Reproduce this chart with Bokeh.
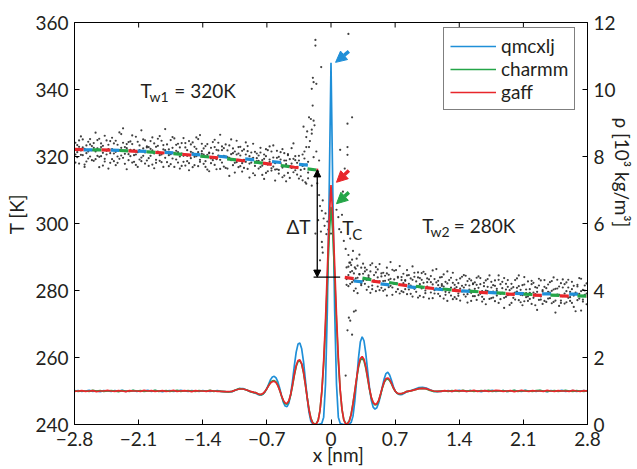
from bokeh.plotting import figure
from bokeh.models import (Range1d, LinearAxis, FixedTicker, CustomJSTickFormatter,
                          Label, Arrow, NormalHead)
from bokeh.embed import file_html
from bokeh.resources import INLINE

# ---------------- data ----------------
X_TICKS = [-2.8, -2.1, -1.4, -0.7, 0.0, 0.7, 1.4, 2.1, 2.8]
T_TICKS = [240, 260, 280, 300, 320, 340, 360]
RHO_TICKS = [0, 2, 4, 6, 8, 10, 12]

# density profile grid (nm)
DX_LEFT = [-2.80, -2.76, -2.72, -2.68, -2.64, -2.60, -2.56, -2.52, -2.48, -2.44,
           -2.40, -2.36, -2.32, -2.28, -2.24, -2.20, -2.16, -2.12, -2.08, -2.04,
           -2.00, -1.96, -1.92, -1.88, -1.84, -1.80, -1.76, -1.72, -1.68, -1.64,
           -1.60, -1.56, -1.52, -1.48, -1.44, -1.40, -1.36, -1.32, -1.28, -1.24,
           -1.20, -1.16, -1.12, -1.08, -1.04, -1.00, -0.96, -0.92, -0.88, -0.84]
DX_CENTER = [-0.82, -0.80, -0.78, -0.76, -0.74, -0.72, -0.70, -0.68, -0.66, -0.64,
             -0.62, -0.60, -0.58, -0.56, -0.54, -0.52, -0.50, -0.48, -0.46, -0.44,
             -0.42, -0.40, -0.38, -0.36, -0.34, -0.32, -0.30, -0.28, -0.26, -0.24,
             -0.22, -0.20, -0.18, -0.16, -0.14, -0.12, -0.10, -0.08, -0.06, -0.04,
             -0.02, 0.00, 0.02, 0.04, 0.06, 0.08, 0.10, 0.12, 0.14, 0.16,
             0.18, 0.20, 0.22, 0.24, 0.26, 0.28, 0.30, 0.32, 0.34, 0.36,
             0.38, 0.40, 0.42, 0.44, 0.46, 0.48, 0.50, 0.52, 0.54, 0.56,
             0.58, 0.60, 0.62, 0.64, 0.66, 0.68, 0.70, 0.72, 0.74, 0.76,
             0.78, 0.80, 0.82]
DX_RIGHT = [0.84, 0.88, 0.92, 0.96, 1.00, 1.04, 1.08, 1.12, 1.16, 1.20,
            1.24, 1.28, 1.32, 1.36, 1.40, 1.44, 1.48, 1.52, 1.56, 1.60,
            1.64, 1.68, 1.72, 1.76, 1.80, 1.84, 1.88, 1.92, 1.96, 2.00,
            2.04, 2.08, 2.12, 2.16, 2.20, 2.24, 2.28, 2.32, 2.36, 2.40,
            2.44, 2.48, 2.52, 2.56, 2.60, 2.64, 2.68, 2.72, 2.76, 2.80]

QMC_LEFT = [1.00, 1.01, 0.99, 1.00, 1.02, 0.99, 1.00, 0.98, 1.01, 1.00,
            0.99, 1.01, 1.00, 1.02, 0.99, 1.00, 1.01, 0.99, 1.00, 1.00,
            1.02, 0.99, 1.01, 1.00, 0.98, 1.00, 1.01, 0.99, 1.00, 1.02,
            1.00, 0.99, 1.01, 1.00, 0.99, 1.01, 1.00, 0.99, 1.00, 1.01,
            0.99, 0.98, 0.97, 0.98, 1.03, 1.07, 1.07, 1.03, 0.98, 0.95]
QMC_CENTER = [0.93, 0.90, 0.88, 0.88, 0.91, 0.98, 1.08, 1.21, 1.34, 1.42,
              1.44, 1.39, 1.27, 1.08, 0.86, 0.66, 0.55, 0.53, 0.64, 0.90,
              1.30, 1.76, 2.16, 2.40, 2.43, 2.26, 1.88, 1.34, 0.80, 0.36,
              0.10, 0.02, 0.00, 0.00, 0.00, 0.01, 0.04, 0.22, 1.20, 3.40,
              6.90, 10.80, 6.90, 3.40, 1.20, 0.22, 0.04, 0.01, 0.00, 0.00,
              0.00, 0.01, 0.06, 0.25, 0.70, 1.32, 1.98, 2.46, 2.62, 2.50,
              2.12, 1.60, 1.10, 0.72, 0.52, 0.46, 0.50, 0.64, 0.86, 1.12,
              1.36, 1.52, 1.56, 1.48, 1.32, 1.14, 1.00, 0.93, 0.90, 0.89,
              0.90, 0.93, 0.97]
QMC_RIGHT = [0.99, 1.02, 1.06, 1.10, 1.11, 1.09, 1.04, 0.99, 0.98, 0.99,
             1.00, 1.01, 0.99, 1.00, 1.02, 1.00, 0.99, 1.01, 1.00, 1.00,
             0.98, 1.01, 1.00, 1.02, 0.99, 1.00, 1.01, 0.99, 1.00, 1.01,
             1.00, 0.99, 1.02, 1.00, 1.00, 0.99, 1.01, 1.00, 0.98, 1.01,
             1.00, 1.00, 1.02, 0.99, 1.00, 1.01, 0.99, 1.00, 1.01, 1.00]

CHA_LEFT = [1.01, 0.99, 1.00, 1.00, 0.99, 1.02, 1.00, 1.01, 0.99, 1.00,
            1.01, 1.00, 0.98, 1.01, 1.00, 0.99, 1.02, 1.00, 1.01, 0.99,
            1.00, 1.00, 1.02, 0.99, 1.00, 1.01, 0.99, 1.00, 1.02, 0.99,
            1.00, 1.01, 1.00, 0.99, 1.01, 1.00, 1.00, 1.02, 0.99, 1.00,
            0.99, 0.98, 0.97, 0.99, 1.03, 1.07, 1.06, 1.03, 0.98, 0.95]
CHA_CENTER = [0.95, 0.92, 0.89, 0.89, 0.92, 0.98, 1.07, 1.17, 1.26, 1.30,
              1.31, 1.27, 1.17, 1.02, 0.85, 0.70, 0.62, 0.61, 0.69, 0.88,
              1.16, 1.47, 1.73, 1.88, 1.90, 1.80, 1.55, 1.20, 0.81, 0.45,
              0.19, 0.06, 0.02, 0.03, 0.13, 0.42, 0.98, 1.80, 2.90, 4.25,
              5.60, 6.50, 5.70, 4.40, 3.05, 1.90, 1.02, 0.45, 0.14, 0.03,
              0.03, 0.11, 0.31, 0.62, 0.99, 1.37, 1.71, 1.92, 1.97, 1.90,
              1.68, 1.37, 1.05, 0.80, 0.65, 0.58, 0.60, 0.70, 0.88, 1.08,
              1.25, 1.34, 1.36, 1.31, 1.21, 1.09, 1.00, 0.94, 0.91, 0.91,
              0.93, 0.95, 0.98]
CHA_RIGHT = [0.99, 1.01, 1.04, 1.07, 1.08, 1.06, 1.02, 0.99, 0.99, 1.00,
             1.00, 0.99, 1.01, 1.00, 0.99, 1.02, 1.00, 1.01, 0.99, 1.00,
             1.01, 1.00, 1.02, 0.99, 1.00, 1.00, 1.01, 0.99, 1.00, 1.02,
             0.99, 1.00, 1.01, 1.00, 0.99, 1.01, 1.02, 1.00, 0.99, 1.00,
             1.01, 0.99, 1.00, 1.02, 1.00, 0.99, 1.01, 1.00, 0.99, 1.01]

GAF_LEFT = [0.99, 1.00, 1.01, 0.99, 1.00, 1.01, 0.98, 1.00, 1.00, 1.02,
            1.00, 0.99, 1.01, 1.00, 0.98, 1.01, 1.00, 1.00, 0.99, 1.02,
            1.00, 1.01, 0.99, 1.00, 1.01, 0.99, 1.00, 1.02, 0.99, 1.00,
            1.01, 1.00, 0.98, 1.01, 1.00, 1.00, 0.99, 1.01, 1.00, 0.99,
            0.99, 0.98, 0.98, 0.99, 1.03, 1.06, 1.06, 1.03, 0.99, 0.96]
GAF_CENTER = [0.95, 0.92, 0.90, 0.90, 0.93, 0.99, 1.07, 1.16, 1.24, 1.28,
              1.29, 1.25, 1.16, 1.02, 0.86, 0.72, 0.64, 0.63, 0.71, 0.90,
              1.18, 1.50, 1.76, 1.91, 1.93, 1.82, 1.56, 1.20, 0.80, 0.44,
              0.18, 0.05, 0.01, 0.02, 0.12, 0.42, 1.00, 1.90, 3.10, 4.60,
              6.10, 7.15, 6.20, 4.75, 3.25, 2.00, 1.05, 0.45, 0.13, 0.02,
              0.02, 0.10, 0.30, 0.62, 1.00, 1.40, 1.75, 1.97, 2.03, 1.95,
              1.72, 1.40, 1.07, 0.81, 0.66, 0.60, 0.62, 0.72, 0.90, 1.10,
              1.27, 1.37, 1.39, 1.34, 1.23, 1.10, 1.00, 0.94, 0.92, 0.92,
              0.93, 0.95, 0.98]
GAF_RIGHT = [0.99, 1.01, 1.04, 1.07, 1.08, 1.07, 1.03, 1.00, 0.99, 0.99,
             1.01, 1.00, 0.99, 1.02, 1.00, 1.01, 0.99, 1.00, 1.02, 0.99,
             1.00, 1.01, 0.99, 1.00, 1.02, 1.01, 0.99, 1.00, 1.01, 0.98,
             1.00, 1.02, 1.00, 0.99, 1.01, 1.00, 1.00, 0.99, 1.02, 1.00,
             0.99, 1.01, 1.00, 1.00, 0.99, 1.02, 1.00, 0.99, 1.01, 1.00]

# temperature samples (K): hot side
TX_LEFT = [-2.79, -2.77, -2.75, -2.73, -2.71, -2.69, -2.67, -2.65, -2.63, -2.61,
           -2.59, -2.57, -2.55, -2.53, -2.51, -2.49, -2.47, -2.45, -2.43, -2.41,
           -2.39, -2.37, -2.35, -2.33, -2.31, -2.29, -2.27, -2.25, -2.23, -2.21,
           -2.19, -2.17, -2.15, -2.13, -2.11, -2.09, -2.07, -2.05, -2.03, -2.01,
           -1.99, -1.97, -1.95, -1.93, -1.91, -1.89, -1.87, -1.85, -1.83, -1.81,
           -1.79, -1.77, -1.75, -1.73, -1.71, -1.69, -1.67, -1.65, -1.63, -1.61,
           -1.59, -1.57, -1.55, -1.53, -1.51, -1.49, -1.47, -1.45, -1.43, -1.41,
           -1.39, -1.37, -1.35, -1.33, -1.31, -1.29, -1.27, -1.25, -1.23, -1.21,
           -1.19, -1.17, -1.15, -1.13, -1.11, -1.09, -1.07, -1.05, -1.03, -1.01,
           -0.99, -0.97, -0.95, -0.93, -0.91, -0.89, -0.87, -0.85, -0.83, -0.81,
           -0.79, -0.77, -0.75, -0.73, -0.71, -0.69, -0.67, -0.65, -0.63, -0.61,
           -0.59, -0.57, -0.55, -0.53, -0.51, -0.49, -0.47, -0.45, -0.43, -0.41,
           -0.39, -0.37, -0.35, -0.33, -0.31, -0.29, -0.27, -0.25]
TA_LEFT = [324.1, 319.8, 322.9, 326.0, 320.4, 317.6, 323.3, 321.5, 325.2, 318.9,
           322.6, 327.1, 320.2, 316.8, 323.9, 321.1, 319.3, 324.8, 322.2, 318.1,
           325.6, 320.9, 317.4, 323.5, 321.9, 326.7, 319.6, 322.8, 316.2, 324.3,
           320.1, 323.7, 318.4, 325.9, 321.3, 319.1, 327.8, 322.4, 317.9, 323.0,
           319.5, 324.6, 321.8, 316.5, 322.9, 325.3, 318.7, 320.6, 323.4, 328.2,
           318.3, 322.1, 324.9, 319.4, 316.9, 321.7, 323.8, 320.0, 317.2, 325.5,
           322.7, 318.6, 315.9, 321.4, 324.2, 319.9, 322.3, 317.1, 326.4, 320.8,
           317.8, 323.1, 320.5, 315.6, 322.6, 318.9, 325.0, 319.2, 321.8, 316.3,
           321.9, 317.0, 323.6, 319.8, 314.2, 320.7, 322.4, 318.1, 324.7, 316.8,
           320.3, 315.5, 322.1, 318.4, 321.6, 313.7, 319.3, 323.8, 317.2, 320.9,
           316.4, 321.2, 318.9, 313.3, 320.1, 317.6, 323.0, 315.8, 319.7, 316.1,
           319.6, 314.9, 321.3, 316.7, 318.8, 312.6, 320.4, 317.1, 322.5, 315.3,
           318.9, 314.6, 320.2, 316.0, 312.9, 319.4, 322.8, 315.2]
TB_LEFT = [320.6, 323.4, 317.9, 321.8, 325.1, 322.3, 318.5, 324.4, 320.0, 323.1,
           318.7, 321.5, 324.9, 319.9, 322.8, 317.3, 326.2, 320.6, 323.5, 321.0,
           319.2, 323.9, 321.4, 318.1, 327.2, 320.3, 324.1, 317.8, 322.5, 320.7,
           324.5, 318.2, 322.0, 320.6, 316.9, 323.3, 319.7, 325.1, 321.2, 318.8,
           322.8, 320.2, 317.6, 323.9, 319.0, 321.5, 326.1, 318.3, 322.1, 319.6,
           323.6, 320.4, 317.7, 322.6, 325.4, 319.1, 321.3, 316.4, 324.0, 320.2,
           317.3, 321.9, 324.6, 319.5, 316.8, 322.9, 320.1, 325.2, 318.4, 321.6,
           322.4, 318.6, 316.1, 321.2, 319.4, 324.3, 317.5, 322.0, 320.3, 326.5,
           318.2, 322.5, 320.0, 316.4, 323.3, 318.9, 321.0, 315.2, 320.6, 322.8,
           317.1, 321.7, 319.0, 324.2, 316.3, 320.1, 318.2, 315.0, 321.4, 319.5,
           320.3, 316.9, 314.5, 319.3, 322.2, 315.6, 318.4, 321.5, 317.0, 312.8,
           316.2, 319.9, 318.0, 313.8, 321.0, 317.7, 315.1, 319.2, 316.6, 323.9,
           315.9, 318.1, 313.4, 317.5, 320.6, 316.3, 311.9, 318.4]
TC_LEFT = [318.2, 321.3, 324.8, 320.5, 322.7, 316.9, 321.0, 319.4, 323.6, 321.9,
           324.0, 319.2, 322.4, 325.3, 320.1, 323.2, 318.5, 321.7, 316.4, 324.6,
           322.2, 318.6, 324.7, 320.0, 319.3, 322.6, 328.4, 320.8, 323.7, 318.9,
           322.0, 326.3, 320.4, 317.5, 324.4, 321.9, 318.6, 320.2, 324.8, 322.7,
           317.2, 322.3, 325.7, 320.9, 318.1, 323.2, 320.4, 324.7, 316.9, 321.9,
           321.2, 317.1, 320.7, 325.8, 321.1, 323.5, 318.2, 322.7, 320.9, 318.4,
           324.0, 320.2, 318.0, 323.6, 321.1, 317.4, 325.7, 321.3, 319.0, 323.8,
           320.6, 316.9, 323.7, 321.0, 318.0, 320.9, 322.8, 316.2, 324.1, 319.0,
           323.0, 320.2, 316.6, 321.8, 319.6, 325.1, 317.4, 321.5, 318.3, 320.9,
           322.9, 318.0, 316.6, 320.6, 323.1, 317.9, 321.2, 319.6, 314.4, 318.6,
           318.7, 322.6, 317.3, 320.6, 315.1, 321.9, 319.1, 316.5, 323.3, 318.0,
           321.7, 316.0, 319.1, 322.2, 314.3, 318.8, 320.7, 313.6, 317.9, 319.3,
           320.1, 316.9, 318.8, 314.1, 317.2, 321.5, 317.6, 313.5]

# temperature samples (K): cold side
TX_RIGHT = [0.17, 0.19, 0.21, 0.23, 0.25, 0.27, 0.29, 0.31, 0.33, 0.35,
            0.37, 0.39, 0.41, 0.43, 0.45, 0.47, 0.49, 0.51, 0.53, 0.55,
            0.57, 0.59, 0.61, 0.63, 0.65, 0.67, 0.69, 0.71, 0.73, 0.75,
            0.77, 0.79, 0.81, 0.83, 0.85, 0.87, 0.89, 0.91, 0.93, 0.95,
            0.97, 0.99, 1.01, 1.03, 1.05, 1.07, 1.09, 1.11, 1.13, 1.15,
            1.17, 1.19, 1.21, 1.23, 1.25, 1.27, 1.29, 1.31, 1.33, 1.35,
            1.37, 1.39, 1.41, 1.43, 1.45, 1.47, 1.49, 1.51, 1.53, 1.55,
            1.57, 1.59, 1.61, 1.63, 1.65, 1.67, 1.69, 1.71, 1.73, 1.75,
            1.77, 1.79, 1.81, 1.83, 1.85, 1.87, 1.89, 1.91, 1.93, 1.95,
            1.97, 1.99, 2.01, 2.03, 2.05, 2.07, 2.09, 2.11, 2.13, 2.15,
            2.17, 2.19, 2.21, 2.23, 2.25, 2.27, 2.29, 2.31, 2.33, 2.35,
            2.37, 2.39, 2.41, 2.43, 2.45, 2.47, 2.49, 2.51, 2.53, 2.55,
            2.57, 2.59, 2.61, 2.63, 2.65, 2.67, 2.69, 2.71, 2.73, 2.75, 2.77, 2.79]
TA_RIGHT = [286.9, 281.3, 285.5, 289.2, 283.0, 280.6, 287.4, 284.8, 282.1, 288.0,
            285.7, 280.2, 283.9, 287.6, 281.5, 284.6, 279.8, 286.3, 282.7, 285.1,
            279.9, 284.4, 286.8, 281.0, 283.5, 278.7, 285.9, 282.2, 280.4, 287.3,
            284.0, 279.5, 282.9, 286.1, 280.3, 283.6, 278.2, 285.3, 281.1, 283.9,
            278.4, 283.2, 285.6, 280.0, 282.5, 277.6, 284.3, 281.8, 279.1, 286.4,
            282.9, 278.3, 281.4, 284.8, 279.6, 276.9, 283.1, 280.9, 285.3, 278.0,
            277.5, 282.2, 280.6, 284.1, 278.8, 281.7, 276.4, 283.5, 279.3, 281.9,
            282.4, 277.2, 280.8, 283.7, 278.1, 281.3, 275.9, 279.8, 284.5, 277.7,
            281.6, 276.8, 279.9, 283.2, 277.4, 280.7, 274.8, 282.0, 278.6, 280.1,
            276.3, 281.0, 279.4, 283.6, 277.1, 280.2, 275.6, 281.8, 278.0, 282.7,
            280.4, 276.0, 282.3, 278.9, 274.2, 281.5, 277.3, 279.7, 283.1, 276.6,
            279.6, 282.5, 276.2, 280.3, 273.4, 278.8, 281.2, 277.0, 283.3, 279.1,
            276.5, 280.9, 278.0, 282.6, 275.1, 279.4, 281.7, 277.6, 274.0, 280.2, 278.7, 282.1]
TB_RIGHT = [283.4, 287.1, 282.0, 285.8, 279.9, 286.5, 283.8, 290.7, 281.6, 285.0,
            282.0, 286.2, 284.5, 279.3, 288.1, 283.0, 285.4, 281.2, 287.9, 280.8,
            285.3, 282.9, 278.5, 284.7, 281.4, 286.2, 283.3, 279.6, 284.1, 281.7,
            279.8, 285.0, 283.1, 278.9, 284.6, 281.5, 287.2, 280.5, 282.7, 277.9,
            283.7, 280.6, 278.0, 284.9, 281.2, 283.3, 279.4, 286.0, 280.1, 282.4,
            279.0, 283.9, 281.9, 277.6, 282.6, 285.7, 280.1, 278.5, 282.3, 280.6,
            283.2, 279.1, 277.0, 281.4, 284.6, 278.2, 282.8, 280.3, 276.9, 282.1,
            278.3, 281.7, 284.2, 279.0, 276.7, 282.3, 280.0, 283.4, 277.5, 280.9,
            277.9, 283.0, 280.5, 276.3, 281.9, 279.3, 283.7, 278.1, 281.1, 275.7,
            280.6, 277.8, 283.1, 279.7, 281.3, 276.5, 278.6, 284.0, 279.2, 276.9,
            277.5, 281.9, 279.4, 275.6, 280.8, 283.5, 278.2, 276.0, 281.1, 279.0,
            281.8, 277.7, 279.9, 283.9, 277.0, 280.6, 275.4, 282.2, 278.3, 276.1,
            279.8, 283.2, 276.9, 280.4, 278.5, 273.8, 281.2, 279.0, 283.5, 277.3, 280.0, 275.9]
TC_RIGHT = [281.7, 284.6, 288.3, 282.5, 285.1, 283.6, 279.2, 284.9, 286.8, 282.9,
            286.8, 283.2, 281.1, 285.7, 280.4, 282.6, 287.0, 283.9, 280.1, 284.2,
            282.8, 280.3, 285.1, 283.2, 288.5, 280.9, 282.0, 286.1, 283.8, 279.1,
            283.1, 282.2, 280.4, 284.5, 282.0, 279.0, 283.2, 284.1, 279.6, 285.4,
            281.9, 285.2, 282.3, 279.2, 283.6, 280.8, 282.5, 277.7, 283.4, 280.6,
            281.6, 280.8, 284.0, 281.2, 278.7, 282.1, 279.4, 283.8, 277.4, 281.7,
            281.0, 278.4, 283.6, 279.7, 280.9, 284.4, 278.9, 281.5, 283.0, 278.3,
            280.5, 283.8, 278.6, 281.9, 279.8, 277.4, 283.0, 281.1, 279.5, 282.6,
            279.7, 281.4, 278.5, 284.5, 279.0, 282.6, 277.8, 280.3, 283.1, 278.9,
            282.0, 279.1, 277.3, 280.8, 284.5, 278.7, 281.6, 276.8, 280.3, 278.2,
            279.3, 282.9, 277.8, 281.0, 279.6, 277.2, 283.0, 280.1, 276.9, 280.7,
            277.6, 279.4, 282.8, 276.6, 280.5, 283.2, 278.7, 276.3, 280.9, 281.9,
            282.4, 277.8, 279.6, 276.3, 281.4, 279.0, 277.1, 283.7, 279.8, 276.7, 281.5, 279.1]

# temperature samples in the interface region
TX_MID = [-0.17, -0.17, 0.19, -0.107, -0.198, -0.16, -0.21, -0.19, 0.23, -0.22,
          -0.19, 0.18, -0.18, -0.27, -0.21, 0.18, 0.10, 0.18, -0.24, -0.24,
          -0.21, -0.13, -0.12, -0.10, -0.09, -0.08, -0.07, -0.06, -0.11, -0.05,
          -0.04, -0.03, -0.10, -0.09, -0.12, -0.14, 0.06, 0.08, 0.09, 0.11,
          0.12, 0.14, 0.16, 0.19, 0.20, 0.22, 0.13, 0.10, -0.15, -0.14,
          -0.28, -0.21, -0.13, -0.16, 0.15, -0.02, 0.00, 0.27, 0.195, 0.18,
          0.23, 0.16, 0.25, 0.21, -0.17, -0.096, -0.26, -0.23, -0.19, -0.30,
          -0.20, 0.24, 0.28, 0.21, 0.26]
TY_MID = [354.8, 353.1, 356.6, 346.7, 343.5, 341.7, 340.2, 342.2, 331.7, 331.2,
          330.7, 329.8, 329.3, 325.8, 326.8, 322.8, 322.0, 320.5, 322.8, 331.7,
          328.0, 308.5, 305.2, 303.8, 306.9, 301.5, 299.3, 303.0, 297.6, 296.8,
          300.6, 298.2, 294.5, 291.3, 289.0, 301.0, 304.1, 301.9, 298.3, 297.4,
          302.6, 294.8, 292.4, 290.6, 288.3, 287.6, 309.5, 313.2, 312.0, 315.6,
          312.3, 311.3, 318.8, 321.5, 316.4, 302.0, 297.0, 274.0, 271.9, 268.1,
          266.8, 254.6, 273.7, 271.0, 297.0, 292.9, 327.5, 324.6, 319.8, 328.9,
          335.2, 291.8, 289.5, 295.5, 286.9]

# temperature fits (K)
FIT_XL_BG = [-2.8, -2.4, -2.0, -1.6, -1.2, -0.8, -0.4, -0.14]
FIT_XL_B = [-2.8, -2.4, -2.0, -1.6, -1.2, -0.8, -0.4, -0.2]
FIT_L_QMC = [322.0, 321.9, 321.5, 320.9, 320.0, 318.9, 317.8, 317.3]
FIT_L_CHA = [322.1, 321.9, 321.4, 320.6, 319.5, 318.2, 316.8, 315.9]
FIT_L_GAF = [322.1, 321.9, 321.4, 320.6, 319.5, 318.2, 316.8, 315.9]
FIT_XR = [0.15, 0.4, 0.7, 1.0, 1.4, 1.8, 2.2, 2.8]
FIT_R_QMC = [283.1, 282.4, 281.5, 280.7, 279.9, 279.3, 279.0, 278.9]
FIT_R_CHA = [284.7, 283.4, 282.1, 281.0, 280.0, 279.3, 278.8, 278.3]
FIT_R_GAF = [283.9, 283.0, 281.9, 280.9, 279.9, 279.1, 278.6, 278.2]

# annotation anchors (data units)
DT_X, DT_LO, DT_HI = -0.15, 284.0, 316.0
DT_BAR = (-0.19, 0.10)
BLUE, GREEN, RED = "#1f8fd8", "#24a548", "#e8262b"
ARROWS = [  # colour, (x0, y0, x1, y1)
    (BLUE, (0.195, 351.4, 0.05, 348.1)),
    (RED, (0.195, 315.8, 0.06, 312.3)),
    (GREEN, (0.195, 309.3, 0.06, 305.9)),
]
TOP_TICK_LEN_K = 1.5

FONT = "Lato"
TXT = "#231f20"
FS = "19px"
NB = "\u00a0"

# ---------------- figure ----------------
p = figure(width=637, height=469, output_backend="svg", toolbar_location=None,
           x_range=Range1d(-2.8, 2.8), y_range=Range1d(240, 360),
           min_border_left=74, min_border_right=50, min_border_top=22,
           min_border_bottom=45)
p.extra_y_ranges = {"rho": Range1d(0, 12)}
p.grid.visible = False
p.outline_line_color = "black"
p.outline_line_width = 1
p.background_fill_color = "white"
p.border_fill_color = "white"


def style_axis(ax, standoff, label, label_standoff):
    ax.major_tick_in = 5
    ax.major_tick_out = 0
    ax.minor_tick_line_color = None
    ax.axis_line_color = "black"
    ax.major_tick_line_color = "black"
    ax.major_label_text_font = FONT
    ax.major_label_text_color = TXT
    ax.major_label_text_font_size = FS
    ax.major_label_standoff = standoff
    ax.axis_label = label
    ax.axis_label_text_font = FONT
    ax.axis_label_text_font_size = FS
    ax.axis_label_text_font_style = "normal"
    ax.axis_label_text_color = TXT
    ax.axis_label_standoff = label_standoff


fmt = CustomJSTickFormatter(code="""
    if (Math.abs(tick) < 1e-9) return '0';
    return (tick < 0 ? '\u2212' : '') + Math.abs(tick).toFixed(1);
""")
xa = p.xaxis[0]
xa.ticker = FixedTicker(ticks=X_TICKS)
xa.formatter = fmt
style_axis(xa, 7, NB * 3 + "x [nm]", -6)

ya = p.yaxis[0]
ya.ticker = FixedTicker(ticks=T_TICKS)
style_axis(ya, 6, NB * 4 + "T [K]", 4)

right = LinearAxis(y_range_name="rho", ticker=FixedTicker(ticks=RHO_TICKS))
style_axis(right, 6, "\u03c1 [10\u00b3 kg/m\u00b3]" + NB * 21, -8)
p.add_layout(right, "right")

# mirrored ticks on the top edge
p.segment(x0=X_TICKS, y0=[T_TICKS[-1]] * len(X_TICKS), x1=X_TICKS,
          y1=[T_TICKS[-1] - TOP_TICK_LEN_K] * len(X_TICKS),
          line_color="black", line_width=1)

# temperature samples
dot = dict(size=2.2, fill_color="#2b2b2b", line_color=None, fill_alpha=0.9)
for row in (TA_LEFT, TB_LEFT, TC_LEFT):
    xs, ys = zip(*zip(TX_LEFT, row))
    p.scatter(list(xs), list(ys), **dot)
for row in (TA_RIGHT, TB_RIGHT, TC_RIGHT):
    xs, ys = zip(*zip(TX_RIGHT, row))
    p.scatter(list(xs), list(ys), **dot)
xs, ys = zip(*zip(TX_MID, TY_MID))
p.scatter(list(xs), list(ys), **dot)

# density profiles
DX = DX_LEFT + DX_CENTER + DX_RIGHT
for name, col, vals in (("qmcxlj", BLUE, QMC_LEFT + QMC_CENTER + QMC_RIGHT),
                        ("charmm", GREEN, CHA_LEFT + CHA_CENTER + CHA_RIGHT),
                        ("gaff", RED, GAF_LEFT + GAF_CENTER + GAF_RIGHT)):
    xs, ys = zip(*zip(DX, vals))
    p.line(list(xs), list(ys), y_range_name="rho", line_color=col, line_width=1.7,
           legend_label=name)

# dashed temperature fits
dash = "9 18"
for xs, ys, col, off in ((FIT_XL_B, FIT_L_QMC, BLUE, 18), (FIT_XL_BG, FIT_L_CHA, GREEN, 9),
                         (FIT_XL_BG, FIT_L_GAF, RED, 0), (FIT_XR, FIT_R_QMC, BLUE, 18),
                         (FIT_XR, FIT_R_CHA, GREEN, 9), (FIT_XR, FIT_R_GAF, RED, 0)):
    p.line(xs, ys, line_color=col, line_width=3.2, line_dash=dash, line_dash_offset=off)

# delta T double arrow and baseline
p.add_layout(Arrow(start=NormalHead(size=7, fill_color="black", line_color="black"),
                   end=NormalHead(size=7, fill_color="black", line_color="black"),
                   x_start=DT_X, y_start=DT_LO, x_end=DT_X, y_end=DT_HI,
                   line_color="black", line_width=1.3))
p.segment(x0=[DT_BAR[0]], y0=[DT_LO], x1=[DT_BAR[1]], y1=[DT_LO],
          line_color="black", line_width=1.3)

# coloured arrows to the peaks
for col, (x0, y0, x1, y1) in ARROWS:
    p.add_layout(Arrow(end=NormalHead(size=11, fill_color=col, line_color=col),
                       x_start=x0, y_start=y0, x_end=x1, y_end=y1,
                       line_color=col, line_width=3.5))


def lab(text, x, y, size=FS):
    p.add_layout(Label(text=text, x=x, y=y, text_font=FONT, text_font_size=size,
                       text_color=TXT, text_align="left", text_baseline="middle"))


lab("T", -2.08, 339.7)
lab("w1", -1.98, 338.0, size="14px")
lab("= 320K", -1.71, 339.7)
lab("T", 0.996, 299.4)
lab("w2", 1.087, 297.7, size="14px")
lab("= 280K", 1.34, 299.4)
lab("\u0394T", -0.486, 299.1)
lab("T", 0.122, 298.9)
lab("C", 0.232, 297.0, size="15px")

# legend
lg = p.legend[0]
lg.location = (369, 314)
lg.margin = 0
lg.padding = 6
lg.spacing = 0
lg.glyph_width = 46
lg.glyph_height = 20
lg.label_height = 20
lg.label_standoff = 5
lg.label_text_font = FONT
lg.label_text_font_size = FS
lg.label_text_color = TXT
lg.border_line_color = "black"
lg.border_line_width = 1
lg.background_fill_color = "white"
lg.background_fill_alpha = 1.0

open("out.html", "w").write(file_html(p, INLINE))
